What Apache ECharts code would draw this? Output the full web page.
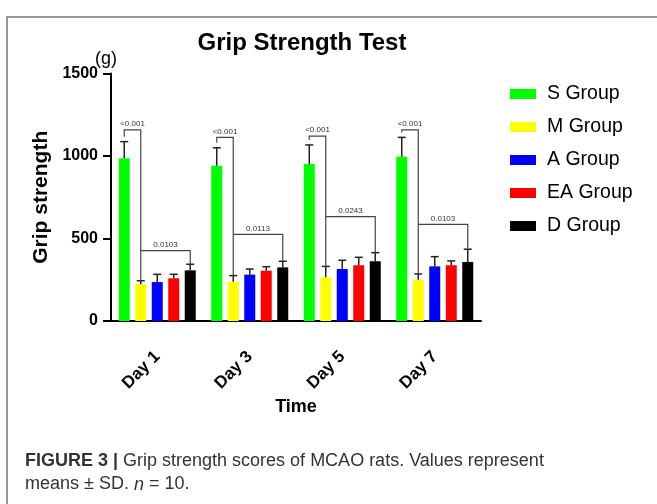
<!DOCTYPE html>
<html>
<head>
<meta charset="utf-8">
<script src="https://cdn.jsdelivr.net/npm/echarts@6/dist/echarts.min.js"></script>
<style>
  html, body { margin:0; padding:0; background:#fff; }
  #chart { width:657px; height:504px; }
</style>
</head>
<body>
<div id="chart"></div>
<script>
// categories
var days = ['Day 1', 'Day 3', 'Day 5', 'Day 7'];
var groups = ['S Group', 'M Group', 'A Group', 'EA Group', 'D Group'];
var colors = ['#00ff00', '#ffff00', '#0000ff', '#ff0000', '#000000'];

// means and SD per group (g)
var sMean = [986, 941, 951, 996];
var sSd = [101, 109, 116, 117];
var mMean = [224, 238, 265, 250];
var mSd = [20, 37, 66, 35];
var aMean = [236, 281, 315, 331];
var aSd = [47, 34, 53, 59];
var eaMean = [259, 305, 338, 338];
var eaSd = [24, 24, 48, 26];
var dMean = [307, 325, 362, 358];
var dSd = [37, 37, 52, 77];

// significance brackets
var p1Labels = ['<0.001', '<0.001', '<0.001', '<0.001'];
var p1Top = [1158, 1113, 1121, 1158];
var p2Labels = ['0.0103', '0.0113', '0.0243', '0.0103'];
var p2Top = [426, 525, 632, 586];

var yTicks = [0, 500, 1000, 1500];

var means = [sMean, mMean, aMean, eaMean, dMean];
var sds = [sSd, mSd, aSd, eaSd, dSd];

var barW = 11, step = 16.5;
var font = '"Liberation Sans", Arial, sans-serif';

window.onload = function () {
    var chart = echarts.init(document.getElementById('chart'));
    var series = [];

    groups.forEach(function (g, i) {
        series.push({
            name: g,
            type: 'bar',
            barWidth: barW,
            barGap: '50%',
            itemStyle: { color: colors[i] },
            data: means[i]
        });
    });

    // error bars (upper only)
    groups.forEach(function (g, i) {
        var off = (i - 2) * step;
        series.push({
            type: 'custom',
            silent: true,
            z: 3,
            data: days.map(function (d, k) { return [k, means[i][k], sds[i][k]]; }),
            renderItem: function (params, api) {
                var p0 = api.coord([api.value(0), api.value(1)]);
                var p1 = api.coord([api.value(0), api.value(1) + api.value(2)]);
                var x = p0[0] + off;
                var st = { stroke: '#222', lineWidth: 1.5 };
                return {
                    type: 'group',
                    children: [
                        { type: 'line', shape: { x1: x, y1: p0[1], x2: x, y2: p1[1] }, style: st },
                        { type: 'line', shape: { x1: x - 4, y1: p1[1], x2: x + 4, y2: p1[1] }, style: st }
                    ]
                };
            }
        });
    });

    // brackets
    series.push({
        type: 'custom',
        silent: true,
        z: 4,
        data: days.map(function (d, k) { return [k, p1Top[k], p2Top[k]]; }),
        renderItem: function (params, api) {
            var k = api.value(0);
            var c = api.coord([k, 0])[0];
            var xs = -2 * step + c, xm = -step + c, xd = 2 * step + c;
            var y = function (v) { return api.coord([k, v])[1]; };
            var sTop = sMean[k] + sSd[k] + 30;
            var mTop = mMean[k] + mSd[k];
            var dTop = dMean[k] + dSd[k];
            var st = { stroke: '#444', lineWidth: 1.2, fill: null };
            var ts = { fill: '#333', fontSize: 8, fontFamily: font, align: 'center', verticalAlign: 'bottom' };
            return {
                type: 'group',
                children: [
                    { type: 'polyline', shape: { points: [[xs, y(sTop)], [xs, y(api.value(1))], [xm, y(api.value(1))], [xm, y(mTop)]] }, style: st },
                    { type: 'polyline', shape: { points: [[xm, y(api.value(2))], [xd, y(api.value(2))], [xd, y(dTop)]] }, style: st },
                    { type: 'text', x: (xs + xm) / 2, y: y(api.value(1)) - 2, style: Object.assign({ text: p1Labels[k] }, ts) },
                    { type: 'text', x: (xm + xd) / 2, y: y(api.value(2)) - 2, style: Object.assign({ text: p2Labels[k] }, ts) }
                ]
            };
        }
    });

    var option = {
        animation: false,
        title: {
            text: 'Grip Strength Test',
            left: 297,
            textAlign: 'center',
            top: 26,
            textStyle: { fontFamily: font, fontSize: 24, fontWeight: 'bold', color: '#000' }
        },
        legend: {
            data: groups,
            orient: 'vertical',
            left: 505,
            top: 79,
            icon: 'rect',
            itemWidth: 26,
            itemHeight: 10,
            itemGap: 13,
            textStyle: { fontFamily: font, fontSize: 19.5, color: '#000', padding: [0, 0, 0, 6] }
        },
        grid: { left: 111, right: 176, top: 73.5, bottom: 183, containLabel: false },
        xAxis: {
            type: 'category',
            data: days,
            name: 'Time',
            nameLocation: 'middle',
            nameGap: 77,
            nameTextStyle: { fontFamily: font, fontSize: 18, fontWeight: 'bold', color: '#000' },
            axisLine: { lineStyle: { color: '#000', width: 2 } },
            axisTick: { alignWithLabel: true, length: 6, lineStyle: { color: '#000', width: 2 } },
            axisLabel: { rotate: 45, margin: 33, fontFamily: font, fontSize: 17, fontWeight: 'bold', color: '#000' }
        },
        yAxis: {
            type: 'value',
            min: yTicks[0],
            max: yTicks[yTicks.length - 1],
            interval: 500,
            name: 'Grip strength',
            nameLocation: 'middle',
            nameGap: 58,
            nameTextStyle: { fontFamily: font, fontSize: 21, fontWeight: 'bold', color: '#000' },
            splitLine: { show: false },
            axisLine: { show: true, lineStyle: { color: '#000', width: 2 } },
            axisTick: { show: true, length: 8, lineStyle: { color: '#000', width: 2 } },
            axisLabel: {
                margin: 13, fontFamily: font, fontSize: 16, fontWeight: 'bold', color: '#000',
                formatter: function (v) { return String(v); }
            }
        },
        graphic: [
            { type: 'rect', shape: { x: 7, y: 17, width: 700, height: 600 }, style: { fill: null, stroke: '#777', lineWidth: 1.5 }, silent: true },
            { type: 'text', left: 95, top: 50, style: { text: '(g)', fontFamily: font, fontSize: 18, fill: '#000' } },
            {
                type: 'text', left: 25, top: 450,
                style: {
                    text: '{b|FIGURE 3 |} Grip strength scores of MCAO rats. Values represent\nmeans \u00b1 SD. {i|n} = 10.',
                    fontFamily: font, fontSize: 18, fill: '#333', lineHeight: 23,
                    rich: {
                        b: { fontFamily: font, fontSize: 18, fontWeight: 'bold', fill: '#333', lineHeight: 23 },
                        i: { fontFamily: font, fontSize: 18, fontStyle: 'italic', fill: '#333', lineHeight: 23 }
                    }
                }
            }
        ],
        series: series
    };
    chart.setOption(option);
};
</script>
</body>
</html>
